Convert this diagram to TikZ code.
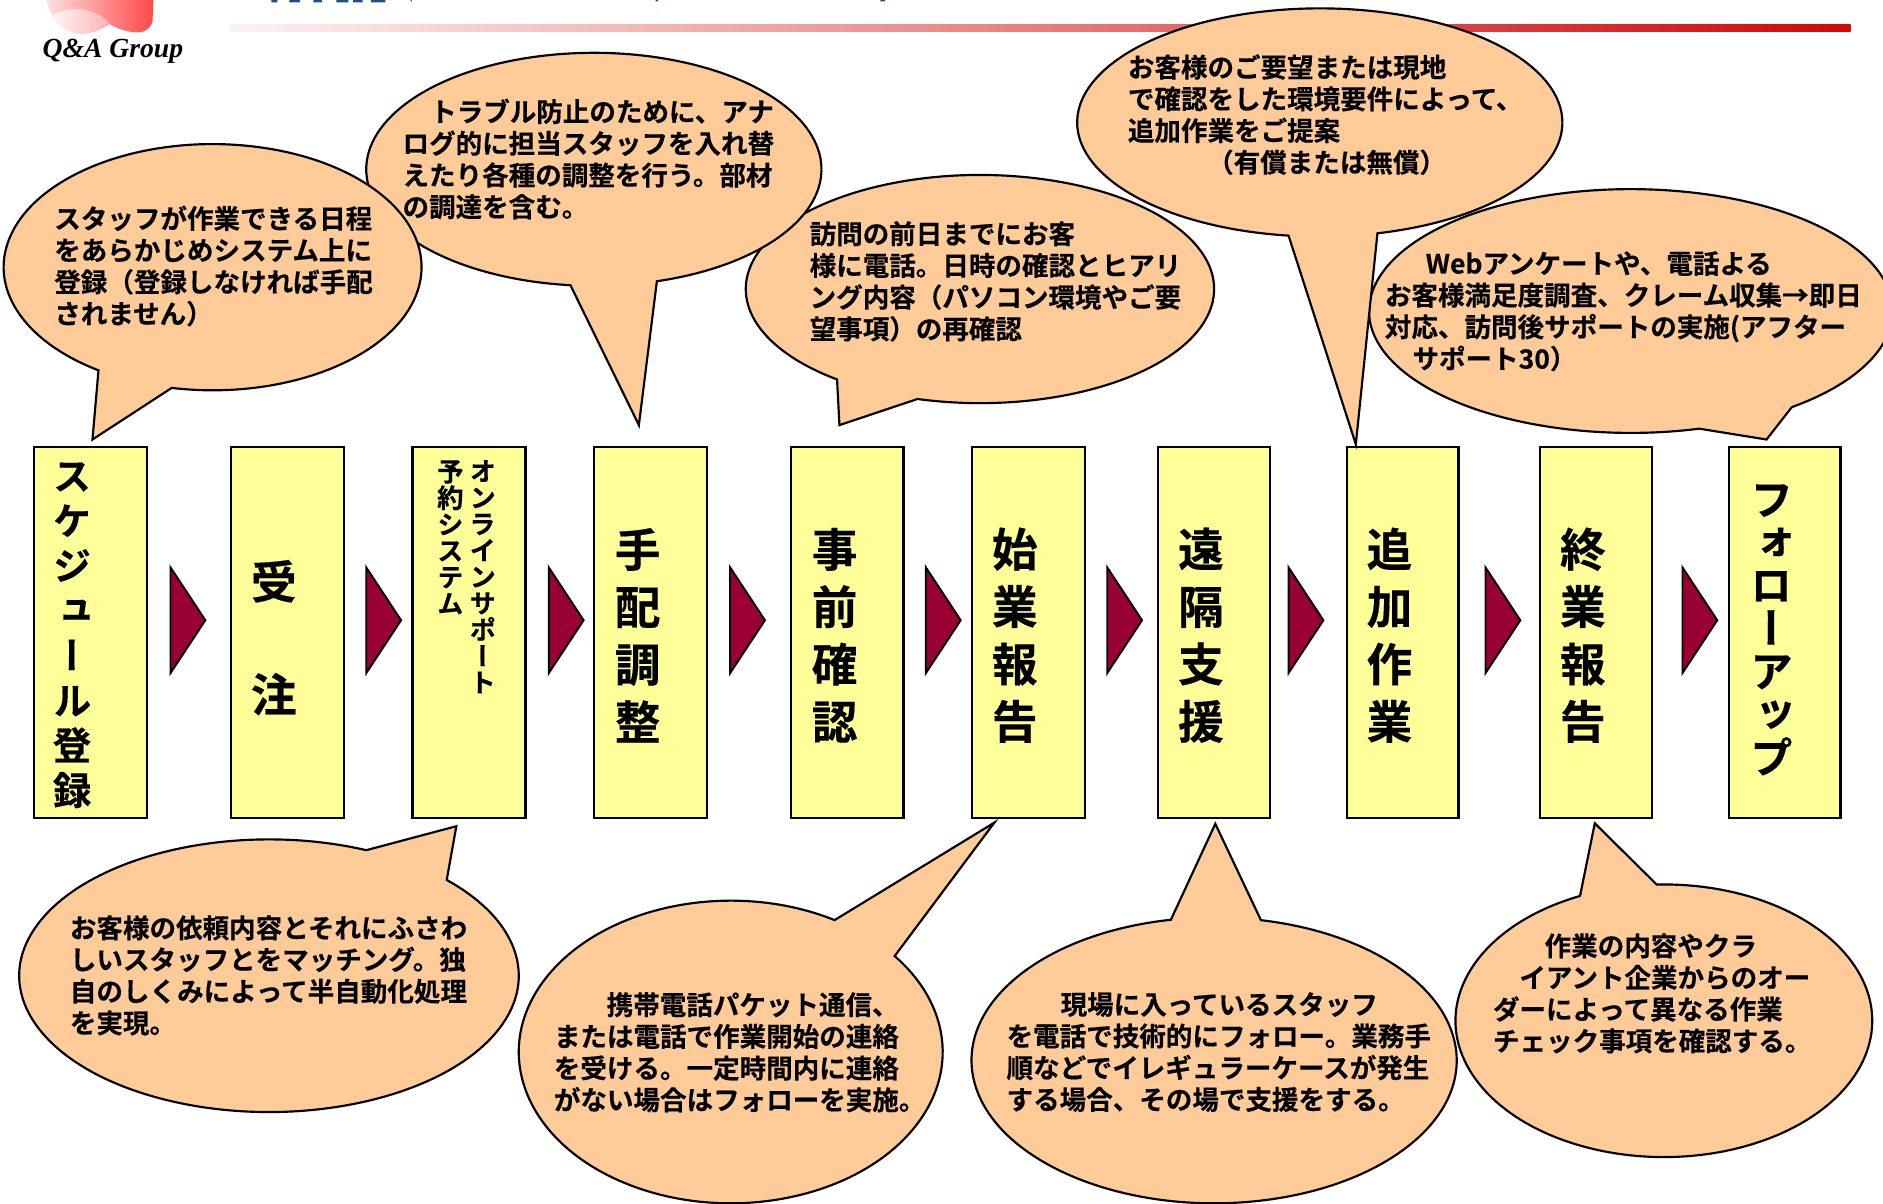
\documentclass[tikz,border=0pt]{standalone}
\usepackage{fontspec}
\usetikzlibrary{calc}
\setmainfont{Liberation Serif}
\newfontfamily\jb{Noto Sans CJK JP Bold}[FakeBold=0.35]
\newfontfamily\jpv{Noto Sans CJK JP Bold}[RawFeature=+vert,FakeBold=0.35]
\definecolor{bubblefill}{HTML}{FFCC99}
\definecolor{boxfill}{HTML}{FFFF99}
\definecolor{arrowfill}{HTML}{990033}
\definecolor{barred}{HTML}{D00808}
\definecolor{barpale}{HTML}{FDF2F2}
\definecolor{titleblue}{HTML}{1F4E8C}
\tikzset{
  x=1pt,y=1pt,
  stepbox/.style={draw=black,line width=2pt,fill=boxfill,inner sep=0pt,minimum width=94pt,minimum height=309pt,anchor=north west},
  flowarrow/.style={draw=black,line width=1.6pt,fill=arrowfill,line join=miter},
  bubbleshape/.style={draw=black,line width=1.8pt,fill=bubblefill,line join=miter},
  bubbletext/.style={font=\jb\fontsize{22.1}{26.4}\selectfont,align=left,anchor=north west,inner sep=0pt},
  vlabel/.style={inner sep=0pt,align=center,anchor=center},
}
\newcommand{\vfontA}{\jpv\fontsize{38}{47.8}\selectfont}
% name cx cy a b x1 s1 x2 s2, then {tipx}{tipy}; y measured downward from the top of the picture
\newcommand{\bubble}[9]{%
  \pgfmathsetmacro{\bubX}{#2}\pgfmathsetmacro{\bubY}{1002-#3}%
  \pgfmathsetmacro{\bubA}{#4}\pgfmathsetmacro{\bubB}{#5}%
  \pgfmathsetmacro{\bubS}{#7*acos((#6-\bubX)/\bubA)}%
  \pgfmathsetmacro{\bubE}{#9*acos((#8-\bubX)/\bubA)}%
  \bubbletail{#1}%
}
\newcommand{\bubbletail}[3]{%
  \pgfmathsetmacro{\bubD}{mod(\bubS-\bubE+720,360)}%
  \pgfmathsetmacro{\bubT}{1002-#3}%
  \coordinate (#1-tip) at (#2,\bubT);%
  \draw[bubbleshape] ($(\bubX,\bubY)+(\bubE:\bubA pt and \bubB pt)$)
    arc[start angle=\bubE,delta angle=\bubD,x radius=\bubA pt,y radius=\bubB pt]
    -- (#1-tip) -- cycle;%
}
\newcommand{\flowtri}[1]{\draw[flowarrow] (#1,529.5) -- (#1+29,485.5) -- (#1,441.5) -- cycle;}
\begin{document}
\begin{tikzpicture}
\useasboundingbox (0,0) rectangle (1568,1002);
% logo
\begin{scope}[yshift=1002pt,yscale=-1]
\shade[left color=red!12!white,right color=red!72!white]
  (38,-5) .. controls (39,8) and (48,27) .. (68,28) .. controls (78,28) and (86,23) .. (91,20)
  .. controls (98,24) and (106,27) .. (115,27) .. controls (122,27) and (126,22) .. (127,18) -- (128,-5) -- cycle;
\shade[left color=red!4!white,right color=red!30!white]
  (43,13) .. controls (55,5) and (78,5) .. (91,19) .. controls (84,24) and (76,28) .. (68,28)
  .. controls (58,28) and (49,22) .. (43,13) -- cycle;
\end{scope}
\node[font=\itshape\bfseries\fontsize{23}{26}\selectfont,inner sep=0pt] (logotext) at (94,959.5) {Q\&A Group};
% cropped title
\fill[titleblue] (226,1002) rectangle (231,1000) (241,1002) rectangle (250,1000) (261,1002) rectangle (268,1000)
  (280,1002) rectangle (290,1000) (294,1002) rectangle (302,1000) (309,1002) rectangle (321,1000)
  (342,1002) rectangle (343,1000.8) (546,1002) rectangle (548,1000.8) (733,1002) rectangle (737,1000.8);
% bar
\shade[left color=barpale,right color=barred] (192,981.2) rectangle (1541,975.4);
% boxes
\node[stepbox] (s1) at (27.5,631) {};
\node[stepbox] (s2) at (191.5,631) {};
\node[stepbox] (s3) at (342.5,631) {};
\node[stepbox] (s4) at (493.5,631) {};
\node[stepbox] (s5) at (657.5,631) {};
\node[stepbox] (s6) at (808.5,631) {};
\node[stepbox,minimum width=93pt] (s7) at (963.5,631) {};
\node[stepbox,minimum width=93pt] (s8) at (1120.5,631) {};
\node[stepbox,minimum width=93pt] (s9) at (1281.5,631) {};
\node[stepbox,minimum width=93pt] (s10) at (1438.5,631) {};
% box labels
\node[vlabel,font=\jpv\fontsize{32}{37.4}\selectfont] (l1) at (60,473) {ス\\ケ\\ジ\\ュ\\ー\\ル\\登\\録};
\node[vlabel,font=\jpv\fontsize{38}{94}\selectfont] (l2) at (228,471) {受\\注};
\node[vlabel,font=\jpv\fontsize{22}{22}\selectfont,anchor=north] (l3a) at (402,619) {オ\\ン\\ラ\\イ\\ン\\サ\\ポ\\ー\\ト};
\node[vlabel,font=\jpv\fontsize{22}{22}\selectfont,anchor=north] (l3b) at (375,619) {予\\約\\シ\\ス\\テ\\ム};
\node[vlabel,font=\vfontA] (l4) at (531,473) {手\\配\\調\\整};
\node[vlabel,font=\vfontA] (l5) at (695,473) {事\\前\\確\\認};
\node[vlabel,font=\vfontA] (l6) at (845,473) {始\\業\\報\\告};
\node[vlabel,font=\vfontA] (l7) at (1000,473) {遠\\隔\\支\\援};
\node[vlabel,font=\vfontA] (l8) at (1157,473) {追\\加\\作\\業};
\node[vlabel,font=\vfontA] (l9) at (1318,473) {終\\業\\報\\告};
\node[vlabel,font=\jpv\fontsize{36}{35.8}\selectfont] (l10) at (1475,477.5) {フ\\ォ\\ロ\\ー\\ア\\ッ\\プ};
% arrows
\flowtri{142}\flowtri{305}\flowtri{457}\flowtri{608}\flowtri{771}\flowtri{922}\flowtri{1073}\flowtri{1237}\flowtri{1401}
% bubbles, upper row
\bubble{b5}{1358}{259}{218}{101.5}{1415}{-1}{1492}{-1}{1471}{366}
\bubble{b4}{1099}{102}{202}{95}{1073}{-1}{1147}{-1}{1129}{370}
\bubble{b3}{816}{240.7}{195}{95}{697}{-1}{764}{-1}{699}{354}
\bubble{b2}{494.5}{141}{189.5}{97}{475}{-1}{547}{-1}{532}{354}
\bubble{b1}{177}{222.5}{174}{102.5}{82}{-1}{143}{-1}{77}{366}
% bubbles, lower row
\bubble{b9}{1385.5}{850}{173.5}{113.5}{1379.5}{1}{1315.7}{1}{1328}{685.6}
\bubble{b8}{1011}{883}{202}{119}{1050}{1}{975}{1}{1012}{686}
\bubble{b7}{608.5}{876}{176.5}{126}{745}{1}{695}{1}{828}{685}
\bubble{b6}{224}{812.5}{208}{113.5}{372}{1}{305}{1}{380}{688}
% bubble texts
\node[bubbletext] (t1) at (45,831) {スタッフが作業できる日程\\をあらかじめシステム上に\\登録（登録しなければ手配\\されません）};
\node[bubbletext] (t2) at (335,920) {\hspace*{23pt}トラブル防止のために、アナ\\ログ的に担当スタッフを入れ替\\えたり各種の調整を行う。部材\\の調達を含む。};
\node[bubbletext] (t3) at (674,818) {訪問の前日までにお客\\様に電話。日時の確認とヒアリ\\ング内容（パソコン環境やご要\\望事項）の再確認};
\node[bubbletext] (t4) at (939,957) {お客様のご要望または現地\\で確認をした環境要件によって、\\追加作業をご提案\\\hspace*{66pt}（有償または無償）};
\node[bubbletext] (t5) at (1153,793) {\hspace*{34pt}Webアンケートや、電話よる\\お客様満足度調査、クレーム収集→即日\\対応、訪問後サポートの実施(アフター\\\hspace*{23pt}サポート30）};
\node[bubbletext] (t6) at (58,240) {お客様の依頼内容とそれにふさわ\\しいスタッフとをマッチング。独\\自のしくみによって半自動化処理\\を実現。};
\node[bubbletext] (t7) at (461,176) {\hspace*{44pt}携帯電話パケット通信、\\または電話で作業開始の連絡\\を受ける。一定時間内に連絡\\がない場合はフォローを実施。};
\node[bubbletext] (t8) at (838,176) {\hspace*{45pt}現場に入っているスタッフ\\を電話で技術的にフォロー。業務手\\順などでイレギュラーケースが発生\\する場合、その場で支援をする。};
\node[bubbletext] (t9) at (1243,225) {\hspace*{43pt}作業の内容やクラ\\\hspace*{22pt}イアント企業からのオー\\ダーによって異なる作業\\チェック事項を確認する。};
\end{tikzpicture}
\end{document}
